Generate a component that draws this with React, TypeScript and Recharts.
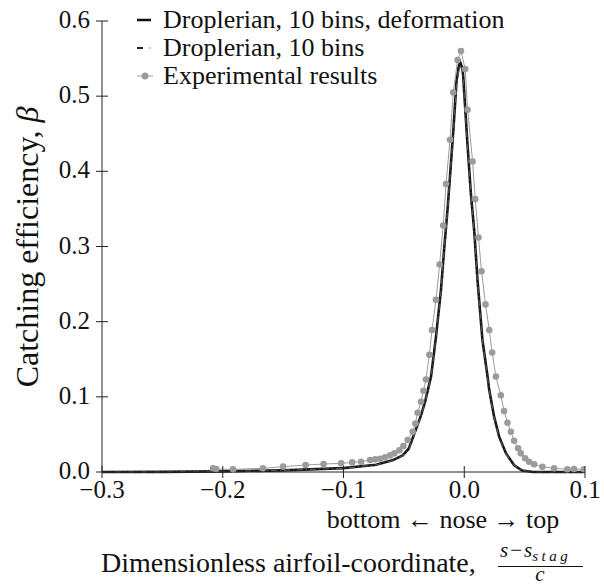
import React from 'react';
import { LineChart, Line, XAxis, YAxis } from 'recharts';

// Droplerian, 10 bins, deformation
const defX = [-0.3, -0.25, -0.2, -0.15, -0.1, -0.073, -0.0595, -0.051, -0.046, -0.0413, -0.0358, -0.0322, -0.0275, -0.0234, -0.0193, -0.0165, -0.0138, -0.0115, -0.0088, -0.0064, -0.0045, -0.0033, -0.0015, -0.0008, 0.0025, 0.0055, 0.0083, 0.011, 0.0151, 0.0193, 0.0207, 0.0248, 0.0289, 0.0345, 0.0413, 0.048, 0.057, 0.1];
const defY = [0, 0.0002, 0.0008, 0.0022, 0.0052, 0.0097, 0.0155, 0.022, 0.031, 0.051, 0.0753, 0.095, 0.127, 0.18, 0.242, 0.299, 0.35, 0.4, 0.46, 0.52, 0.54, 0.545, 0.537, 0.525, 0.44, 0.37, 0.32, 0.255, 0.175, 0.127, 0.109, 0.073, 0.047, 0.025, 0.009, 0.002, 0, 0];

// Droplerian, 10 bins
const binsX = [-0.3, -0.25, -0.2, -0.15, -0.1, -0.073, -0.0595, -0.051, -0.046, -0.0413, -0.0358, -0.0322, -0.0275, -0.0234, -0.0193, -0.0165, -0.0138, -0.0115, -0.0088, -0.0064, -0.0045, -0.0033, -0.0015, -0.0008, 0.0025, 0.0055, 0.0083, 0.011, 0.0151, 0.0193, 0.0207, 0.0248, 0.0289, 0.0345, 0.0413, 0.048, 0.057, 0.1];
const binsY = [0, 0.0002, 0.0008, 0.0021, 0.005, 0.0095, 0.015, 0.0215, 0.03, 0.05, 0.074, 0.094, 0.126, 0.178, 0.24, 0.297, 0.348, 0.398, 0.457, 0.516, 0.536, 0.541, 0.533, 0.521, 0.437, 0.368, 0.318, 0.253, 0.174, 0.126, 0.108, 0.072, 0.046, 0.024, 0.009, 0.002, 0, 0];

// Experimental results
const expX = [-0.208, -0.2055, -0.1915, -0.1667, -0.15, -0.1314, -0.1165, -0.1019, -0.0928, -0.0854, -0.078, -0.0738, -0.0697, -0.0656, -0.0614, -0.0579, -0.0537, -0.0504, -0.0468, -0.0427, -0.0405, -0.0386, -0.0358, -0.0338, -0.0317, -0.0289, -0.0267, -0.0234, -0.0204, -0.0174, -0.0151, -0.0118, -0.0091, -0.0055, -0.0027, 0.0008, 0.0028, 0.0069, 0.0091, 0.0118, 0.0143, 0.0176, 0.0207, 0.0231, 0.0262, 0.0303, 0.033, 0.0358, 0.0386, 0.0413, 0.0446, 0.0468, 0.0504, 0.0537, 0.0579, 0.0647, 0.0744, 0.0854, 0.0909, 0.0992];
const expY = [0.0049, 0.004, 0.0035, 0.0049, 0.0071, 0.0093, 0.0106, 0.0115, 0.0128, 0.0137, 0.016, 0.0168, 0.0177, 0.0195, 0.0221, 0.0248, 0.029, 0.0345, 0.0425, 0.0535, 0.0646, 0.0788, 0.0934, 0.108, 0.123, 0.156, 0.189, 0.229, 0.276, 0.328, 0.383, 0.442, 0.505, 0.548, 0.56, 0.536, 0.482, 0.413, 0.363, 0.312, 0.267, 0.223, 0.189, 0.159, 0.127, 0.102, 0.081, 0.0655, 0.0535, 0.0416, 0.0315, 0.0248, 0.0182, 0.0137, 0.0102, 0.007, 0.0049, 0.0036, 0.004, 0.0036];

const xTicks = [-0.3, -0.2, -0.1, 0, 0.1];
const yTicks = [0, 0.1, 0.2, 0.3, 0.4, 0.5, 0.6];

const toPoints = (xs: number[], ys: number[]) => xs.map((x, i) => ({ x, y: ys[i] }));

const FONT = 'Liberation Serif, DejaVu Serif, Times New Roman, serif';
const AXIS = '#222';
const GRAY = '#9b9b9b';
const serif = { fontFamily: FONT };

const fmt = (v: number) => (v < 0 ? '\u2212' + Math.abs(v).toFixed(1) : v.toFixed(1));

const XTick = (props: any) => {
  const { x, y, payload } = props;
  return (
    <g>
      <line x1={x} x2={x} y1={y - 6} y2={y + 6} stroke={AXIS} strokeWidth={1} />
      <text x={x} y={y + 26} textAnchor="middle" fontSize={25} style={serif} fill="#111">
        {fmt(payload.value)}
      </text>
    </g>
  );
};

const YTick = (props: any) => {
  const { x, y, payload } = props;
  return (
    <g>
      <line x1={x - 6} x2={x + 6} y1={y} y2={y} stroke={AXIS} strokeWidth={1} />
      <text x={x - 12} y={y + 7} textAnchor="end" fontSize={25} style={serif} fill="#111">
        {fmt(payload.value)}
      </text>
    </g>
  );
};

const legendRows = [
  { name: 'Droplerian, 10 bins, deformation', kind: 'solid' },
  { name: 'Droplerian, 10 bins', kind: 'dashdot' },
  { name: 'Experimental results', kind: 'dots' },
];

const Overlay = () => (
  <svg width={604} height={588} style={{ position: 'absolute', left: 0, top: 0, pointerEvents: 'none', ...serif }}>
    {legendRows.map((r, i) => {
      const cy = 20 + i * 28;
      return (
        <g key={r.name}>
          {r.kind === 'solid' && <line x1={137} x2={151} y1={cy} y2={cy} stroke="#111" strokeWidth={2.5} />}
          {r.kind === 'dashdot' && (
            <g>
              <line x1={137} x2={143} y1={cy} y2={cy} stroke="#222" strokeWidth={2} />
              <line x1={149} x2={151} y1={cy} y2={cy} stroke="#bbb" strokeWidth={1.5} />
            </g>
          )}
          {r.kind === 'dots' && (
            <g>
              <line x1={137} x2={153} y1={cy} y2={cy} stroke={GRAY} strokeWidth={1} />
              <circle cx={145} cy={cy} r={3.5} fill={GRAY} />
            </g>
          )}
          <text x={163} y={cy + 8} fontSize={26} style={serif} fill="#111">
            {r.name}
          </text>
        </g>
      );
    })}

    <text x={38} y={247} transform="rotate(-90 38 247)" textAnchor="middle" fontSize={32} style={serif} fill="#111">
      Catching efficiency, <tspan fontStyle="italic">β</tspan>
    </text>

    <text x={443} y={528} textAnchor="middle" fontSize={26} style={serif} fill="#111">
      bottom ← nose → top
    </text>

    <text x={101} y={572} fontSize={28} style={serif} fill="#111">
      Dimensionless airfoil-coordinate,
    </text>
    <text x={500} y={557} fontSize={21} fontStyle="italic" style={serif} fill="#111">
      s<tspan fontStyle="normal" dx={2}>−</tspan><tspan dx={2}>s</tspan>
      <tspan fontSize={15} dy={4} letterSpacing={3.5}>stag</tspan>
    </text>
    <line x1={498} x2={583} y1={566.5} y2={566.5} stroke="#111" strokeWidth={1} />
    <text x={540} y={581} textAnchor="middle" fontSize={21} fontStyle="italic" style={serif} fill="#111">
      c
    </text>
  </svg>
);

export default function App() {
  return (
    <div style={{ position: 'absolute', left: 0, top: 0, width: 604, height: 588, background: '#fff', ...serif }}>
      <LineChart width={604} height={588} margin={{ top: 21, right: 19, bottom: 0, left: 0 }}>
        <XAxis
          type="number"
          dataKey="x"
          domain={[-0.3, 0.1]}
          ticks={xTicks}
          allowDataOverflow
          height={116}
          tickSize={0}
          tickMargin={0}
          tick={<XTick />}
          axisLine={{ stroke: AXIS, strokeWidth: 1 }}
          tickLine={false}
        />
        <YAxis
          type="number"
          dataKey="y"
          domain={[0, 0.6]}
          ticks={yTicks}
          width={102}
          tickSize={0}
          tickMargin={0}
          tick={<YTick />}
          axisLine={{ stroke: AXIS, strokeWidth: 1 }}
          tickLine={false}
        />
        <Line
          data={toPoints(defX, defY)}
          dataKey="y"
          type="linear"
          stroke="#161616"
          strokeWidth={2.6}
          dot={false}
          isAnimationActive={false}
          name="Droplerian, 10 bins, deformation"
        />
        <Line
          data={toPoints(binsX, binsY)}
          dataKey="y"
          type="linear"
          stroke="#555"
          strokeWidth={1.2}
          strokeDasharray="6 3 1 3"
          dot={false}
          isAnimationActive={false}
          name="Droplerian, 10 bins"
        />
        <Line
          data={toPoints(expX, expY)}
          dataKey="y"
          type="linear"
          stroke={GRAY}
          strokeWidth={1}
          dot={{ r: 3.3, fill: GRAY, stroke: 'none' }}
          isAnimationActive={false}
          name="Experimental results"
        />
      </LineChart>
      <Overlay />
    </div>
  );
}
